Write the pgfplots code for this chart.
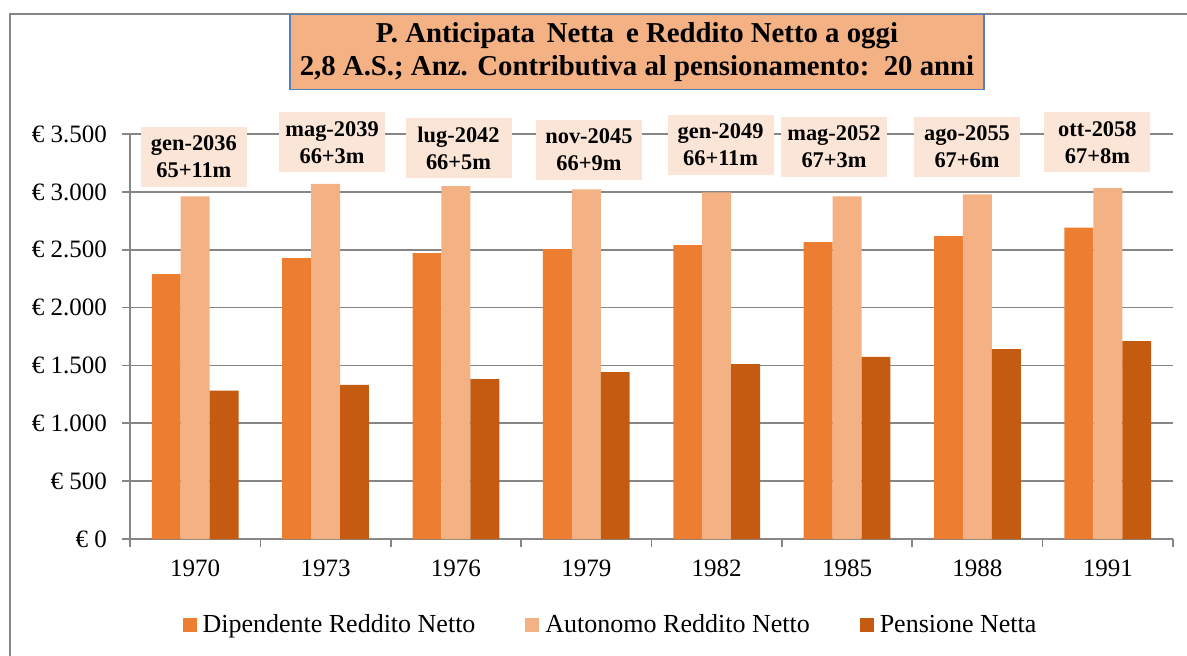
\documentclass[border=0pt]{standalone}
\usepackage{pgfplots}
\pgfplotsset{compat=1.18}
\usepackage{pgfplotstable}
\usepackage{fontspec}
\setmainfont{Liberation Serif}
\definecolor{dip}{HTML}{ED7D31}
\definecolor{aut}{HTML}{F4B183}
\definecolor{pen}{HTML}{C55A11}
\definecolor{annot}{HTML}{FBE5D6}
\definecolor{gridc}{HTML}{868686}
\definecolor{titleborder}{HTML}{4F81BD}
\pgfplotstableread{
x dip aut pen
0 2290 2960 1283
1 2427 3070 1333
2 2471 3050 1381
3 2505 3022 1443
4 2540 2995 1512
5 2565 2962 1573
6 2618 2978 1642
7 2692 3032 1711
}\data
\pgfplotsset{sqlegend/.style={legend image code/.code={\fill[##1] (0pt,-3.5pt) rectangle (7pt,3.5pt);}}}
\begin{document}
\begin{tikzpicture}
\useasboundingbox (0,0) rectangle (593.5pt,327.5pt);
\draw[gridc, line width=0.8pt] (5pt,-5pt) -- (5pt,320.5pt) -- (600pt,320.5pt);
\node[fill=aut, draw=titleborder, line width=0.8pt, minimum width=347pt, minimum height=37.5pt, inner sep=0pt, align=center, font=\bfseries\fontsize{14.4}{16.5}\selectfont] at (318.5pt,301.5pt) {P. Anticipata\, Netta\, e Reddito Netto a oggi\\2,8 A.S.; Anz. Contributiva al pensionamento:\, 20 anni};
\begin{axis}[
  at={(65pt,58pt)}, anchor=south west,
  scale only axis, width=521.5pt, height=202.5pt,
  xmin=-0.5, xmax=7.5, ymin=0, ymax=3500,
  clip=false,
  axis x line*=bottom, axis y line*=left,
  axis line style={gridc, line width=0.8pt, -},
  ymajorgrids, grid style={gridc, line width=0.8pt},
  xtick=data,
  xticklabels={1970,1973,1976,1979,1982,1985,1988,1991},
  major x tick style={draw=none},
  minor xtick={-0.5,0.5,...,7.5},
  minor x tick style={gridc, line width=0.8pt},
  ytick={0,500,...,3500},
  yticklabels={€ 0,€ 500,€ 1.000,€ 1.500,€ 2.000,€ 2.500,€ 3.000,€ 3.500},
  major y tick style={gridc, line width=0.8pt},
  tick align=outside,
  major tick length=4pt, minor tick length=4pt,
  ticklabel style={font=\fontsize{12.5}{14}\selectfont},
  xticklabel style={yshift=-3pt},
  yticklabel style={xshift=-4pt},
  ybar, bar width=0.222,
  legend style={at={(0.4626,-0.2123)}, anchor=center, draw=none, fill=none,
    legend columns=3, font=\fontsize{13}{15}\selectfont,
    nodes={inner xsep=3pt},
    /tikz/every even column/.append style={column sep=22pt}},
]
\addplot[fill=dip, draw=none, bar shift=-0.222, sqlegend] table[x=x,y=dip]{\data};
\addlegendentry{Dipendente Reddito Netto}
\addplot[fill=aut, draw=none, bar shift=0, sqlegend] table[x=x,y=aut]{\data};
\addlegendentry{Autonomo Reddito Netto}
\addplot[fill=pen, draw=none, bar shift=0.222, sqlegend] table[x=x,y=pen]{\data};
\addlegendentry{Pensione Netta}
\tikzset{ann/.style={fill=annot, inner sep=0pt, minimum width=53pt, minimum height=30pt, align=center, font=\bfseries\fontsize{11.2}{13.5}\selectfont}}
\node[ann] at (axis cs:-0.01,3301) {gen-2036\\65+11m};
\node[ann] at (axis cs:1.05,3427) {mag-2039\\66+3m};
\node[ann] at (axis cs:2.02,3379) {lug-2042\\66+5m};
\node[ann] at (axis cs:3.02,3362) {nov-2045\\66+9m};
\node[ann] at (axis cs:4.03,3405) {gen-2049\\66+11m};
\node[ann] at (axis cs:4.90,3388) {mag-2052\\67+3m};
\node[ann] at (axis cs:5.92,3388) {ago-2055\\67+6m};
\node[ann] at (axis cs:6.92,3427) {ott-2058\\67+8m};
\end{axis}
\end{tikzpicture}
\end{document}
